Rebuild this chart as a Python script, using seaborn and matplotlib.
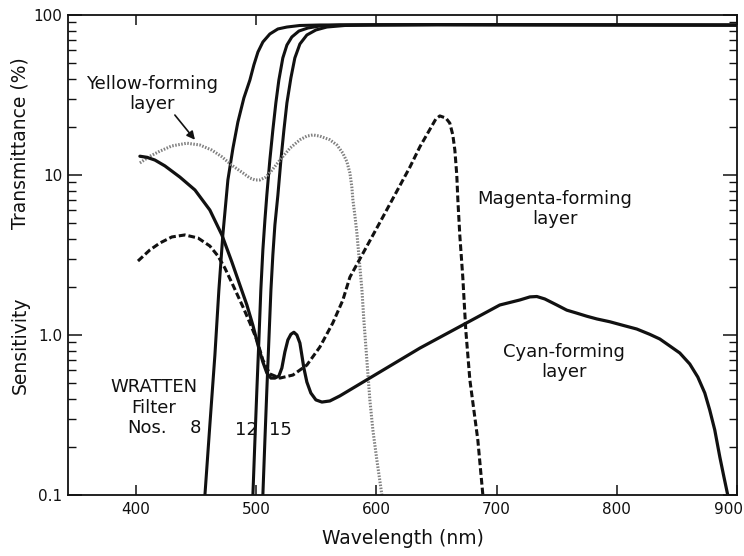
import numpy as np
import pandas as pd
import matplotlib
matplotlib.use("Agg")
import matplotlib.pyplot as plt
import matplotlib.transforms as mtransforms
import seaborn as sns
from matplotlib.ticker import FixedLocator, FixedFormatter, LogLocator, NullFormatter

# Wratten filter transmittance curves (wavelength nm, transmittance %)
filter8_nm = [457.4, 461.5, 465.7, 469.0, 472.3, 476.5, 480.7, 484.8, 489.8, 494.8, 498.1, 501.5,
              505.6, 511.4, 518.1, 525.6, 536.4, 553.0, 650.0, 900.0]
filter8_val = [0.1, 0.274, 0.750, 1.91, 4.22, 9.31, 14.7, 21.4, 30.3, 39.2, 48.7, 58.7,
               67.8, 76.1, 81.8, 84.1, 86.0, 86.6, 87.0, 86.5]

filter12_nm = [497.3, 499.0, 500.6, 502.3, 503.9, 505.6, 507.3, 508.9, 511.4, 513.9, 516.4, 518.9,
               522.2, 525.6, 529.7, 535.6, 543.0, 553.0, 569.6, 650.0, 900.0]
filter12_val = [0.1, 0.221, 0.453, 0.931, 1.91, 3.40, 5.23, 7.50, 12.4, 19.1, 28.2, 39.2,
                53.9, 64.9, 72.9, 79.4, 82.9, 85.4, 86.6, 87.0, 86.5]

filter15_nm = [505.6, 507.3, 508.9, 510.6, 512.3, 513.9, 515.6, 518.1, 520.6, 523.1, 525.6, 528.9,
               532.2, 536.4, 542.2, 549.7, 558.8, 573.8, 594.6, 650.0, 900.0]
filter15_val = [0.1, 0.221, 0.453, 0.931, 1.91, 3.16, 4.87, 7.50, 12.4, 19.1, 28.2, 40.4,
                53.9, 65.9, 75.0, 80.6, 84.1, 86.0, 86.6, 87.0, 86.5]

# Spectral sensitivity of the three dye-forming layers
yellow_nm = [403.3, 411.6, 420.0, 429.9, 442.4, 453.2, 463.2, 471.5, 479.8, 489.0, 494.8, 499.0,
             503.1, 508.1, 513.1, 519.8, 528.1, 536.4, 542.2, 547.2, 553.0, 561.3, 567.2, 572.1,
             575.5, 578.0, 579.6, 580.5, 582.1, 583.8, 586.3, 588.0, 589.6, 592.1, 594.6, 597.1,
             600.4, 604.6]
yellow_val = [11.9, 13.1, 14.1, 15.2, 15.8, 15.4, 14.3, 13.0, 11.5, 10.3, 9.58, 9.31,
              9.31, 9.70, 10.7, 12.4, 14.7, 16.6, 17.5, 17.8, 17.5, 16.6, 15.4, 13.7,
              12.1, 10.3, 8.42, 6.98, 5.62, 4.34, 2.66, 1.91, 1.24, 0.698, 0.393, 0.255,
              0.166, 0.1]

magenta_nm = [401.7, 411.6, 420.0, 429.9, 440.7, 451.6, 461.5, 468.2, 474.0, 480.7, 489.0, 494.8,
              500.6, 505.6, 511.4, 519.8, 530.6, 542.2, 553.0, 563.8, 572.1, 578.0, 605.4, 627.9,
              636.2, 649.5, 652.8, 657.8, 661.1, 663.6, 665.3, 666.9, 667.8, 669.4, 671.9, 674.4,
              677.8, 681.1, 684.4, 688.6]
magenta_val = [2.90, 3.40, 3.76, 4.10, 4.22, 4.04, 3.60, 3.12, 2.62, 2.05, 1.50, 1.19,
               0.931, 0.698, 0.571, 0.538, 0.562, 0.649, 0.841, 1.19, 1.65, 2.30, 5.46, 11.2,
               15.0, 22.4, 23.4, 22.7, 21.1, 17.8, 14.3, 10.0, 6.98, 4.22, 2.30, 1.07,
               0.523, 0.340, 0.221, 0.1]

cyan_nm = [403.3, 409.1, 415.8, 424.1, 436.6, 449.1, 461.5, 471.5, 479.8, 486.5, 492.3, 497.3,
           501.5, 505.6, 508.9, 512.3, 515.6, 518.9, 521.4, 523.9, 526.4, 528.9, 531.4, 533.9,
           536.4, 538.0, 539.7, 542.2, 545.5, 549.7, 554.7, 561.3, 569.6, 636.2, 702.7, 719.3,
           727.7, 733.5, 740.1, 750.1, 758.4, 766.7, 775.1, 783.4, 794.2, 805.0, 816.6, 827.4,
           835.8, 844.1, 852.4, 860.7, 867.4, 873.2, 877.3, 881.5, 885.7, 889.0, 892.3]
cyan_val = [13.1, 12.9, 12.4, 11.4, 9.70, 8.06, 6.04, 4.22, 2.86, 2.05, 1.54, 1.15,
            0.866, 0.678, 0.579, 0.538, 0.538, 0.554, 0.622, 0.783, 0.931, 1.01, 1.04, 1.0,
            0.891, 0.750, 0.622, 0.508, 0.434, 0.393, 0.381, 0.387, 0.416, 0.828, 1.54, 1.655,
            1.73, 1.74, 1.68, 1.54, 1.43, 1.37, 1.31, 1.26, 1.21, 1.15, 1.09, 1.01,
            0.944, 0.854, 0.772, 0.659, 0.546, 0.434, 0.340, 0.255, 0.173, 0.131, 0.1]

x_ticks = [400, 500, 600, 700, 800, 900]
y_ticks = [0.1, 1.0, 10, 100]
y_tick_labels = ["0.1", "1.0", "10", "100"]

sns.set_theme(style="ticks")
plt.rcParams["font.family"] = ["DejaVu Sans"]

fig = plt.figure(figsize=(7.44, 5.56), dpi=100)
fig.patch.set_facecolor("white")
ax = fig.add_axes([68 / 744, 1 - 495 / 556, 669 / 744, 480 / 556])
ax.set_facecolor("white")

ink = "#111111"


def draw(nm, val, **kw):
    df = pd.DataFrame({"nm": nm, "val": val})
    sns.lineplot(data=df, x="nm", y="val", ax=ax, estimator=None, sort=False, **kw)


for nm, val in [(filter8_nm, filter8_val), (filter12_nm, filter12_val), (filter15_nm, filter15_val)]:
    draw(nm, val, color=ink, linewidth=2.2)

draw(yellow_nm, yellow_val, color="#808080", linewidth=2.2, linestyle=(0, (0.5, 0.5)))
draw(magenta_nm, magenta_val, color=ink, linewidth=2.2, linestyle=(0, (2.2, 1.0)))
draw(cyan_nm, cyan_val, color=ink, linewidth=2.3)

ax.set_yscale("log")
ax.set_xlim(343.5, 900)
ax.set_ylim(0.1, 100)

ax.xaxis.set_major_locator(FixedLocator(x_ticks))
ax.yaxis.set_major_locator(FixedLocator(y_ticks))
ax.yaxis.set_major_formatter(FixedFormatter(y_tick_labels))
ax.yaxis.set_minor_locator(LogLocator(base=10, subs=np.arange(2, 10)))
ax.yaxis.set_minor_formatter(NullFormatter())

ax.tick_params(axis="x", which="major", direction="in", top=True, bottom=True,
               length=7, width=1.1, labelsize=11, pad=5, colors=ink)
ax.tick_params(axis="y", which="major", direction="in", left=True, right=True,
               length=10, width=1.1, labelsize=11, pad=4, colors=ink)
ax.tick_params(axis="y", which="minor", direction="in", left=True, right=True,
               length=6, width=1.0, colors=ink)
for s in ax.spines.values():
    s.set_linewidth(1.3)
    s.set_color(ink)

# pull the last wavelength label inside the figure edge
last = ax.get_xticklabels()[-1]
last.set_transform(last.get_transform() + mtransforms.ScaledTranslation(-0.09, 0, fig.dpi_scale_trans))

ax.set_xlabel("Wavelength (nm)", fontsize=13.5, labelpad=9, color=ink)
ax.set_ylabel("")
ax.text(-0.072, 0.733, "Transmittance (%)", transform=ax.transAxes, rotation=90,
        ha="center", va="center", fontsize=13.5, color=ink)
ax.text(-0.072, 0.3125, "Sensitivity", transform=ax.transAxes, rotation=90,
        ha="center", va="center", fontsize=13.5, color=ink)

lab = dict(fontsize=13, color=ink, ha="center", va="center", linespacing=1.15)
ax.text(413.3, 32.1, "Yellow-forming\nlayer", **lab)
ax.annotate("", xy=(449.1, 16.6), xytext=(432.4, 23.7),
            arrowprops=dict(arrowstyle="-|>", color=ink, lw=1.2, shrinkA=0, shrinkB=0,
                            mutation_scale=12))
ax.text(748.4, 6.17, "Magenta-forming\nlayer", **lab)
ax.text(755.9, 0.678, "Cyan-forming\nlayer", **lab)

ax.text(415.4, 0.473, "WRATTEN", **lab)
ax.text(415.0, 0.350, "Filter", **lab)
ax.text(392.5, 0.262, "Nos.", fontsize=13, color=ink, ha="left", va="center")
ax.text(449.9, 0.262, "8", **lab)
ax.text(492.3, 0.255, "12", **lab)
ax.text(520.6, 0.255, "15", **lab)

fig.savefig("out.png", dpi=100, facecolor="white")
